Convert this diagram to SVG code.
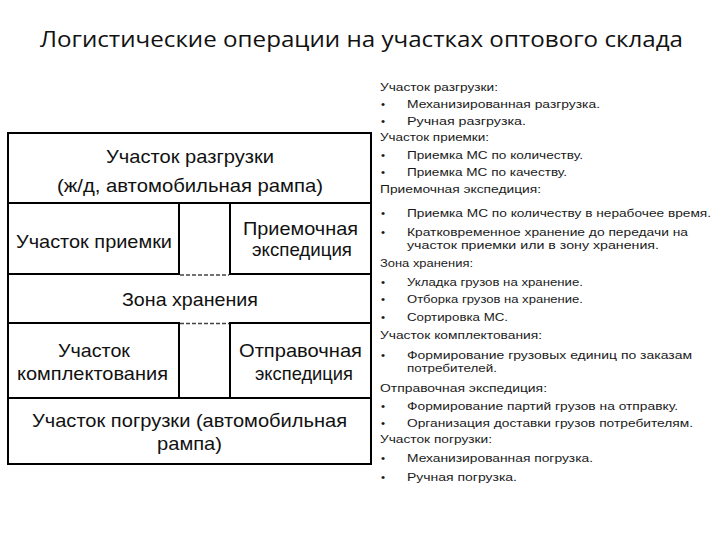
<svg xmlns="http://www.w3.org/2000/svg" width="720" height="540" viewBox="0 0 720 540">
<style>
.bx{fill:#fff;stroke:#000;stroke-width:2}
.ln{fill:none;stroke:#000;stroke-width:2}
.dash{fill:none;stroke:#444;stroke-width:1.5;stroke-dasharray:4 2}
.t{font-family:"Liberation Sans",Arial,sans-serif;font-size:19px;fill:#111}
.title{font-family:"Open Sans","Noto Sans",sans-serif;font-size:22px;fill:#111}
.r{font-family:"Liberation Sans",Arial,sans-serif;font-size:11.5px;fill:#1a1a1a}
</style>
<rect width="720" height="540" fill="#fff"/>
<text class="title" x="40" y="47" textLength="643" lengthAdjust="spacingAndGlyphs">Логистические операции на участках оптового склада</text>

<g id="unloading">
<rect class="bx" x="8" y="133" width="363" height="70"/>
<text class="t" x="106" y="162.5" textLength="168" lengthAdjust="spacingAndGlyphs">Участок разгрузки</text>
<text class="t" x="57" y="191.5" textLength="266" lengthAdjust="spacingAndGlyphs">(ж/д, автомобильная рампа)</text>
</g>
<g id="receiving">
<rect class="bx" x="8" y="203" width="171" height="71"/>
<text class="t" x="16" y="247.5" textLength="156" lengthAdjust="spacingAndGlyphs">Участок приемки</text>
</g>
<g id="middle-top">
<path class="ln" d="M179,203 V274 M230,203 V274"/>
</g>
<g id="reception-expedition">
<rect class="bx" x="230" y="203" width="141" height="71"/>
<text class="t" x="243" y="235" textLength="115" lengthAdjust="spacingAndGlyphs">Приемочная</text>
<text class="t" x="252" y="256" textLength="100" lengthAdjust="spacingAndGlyphs">экспедиция</text>
</g>
<g id="storage-zone">
<path class="ln" d="M179,274 H8 V323 H179 M230,274 H371 V323 H230"/>
<text class="t" x="122" y="305.5" textLength="136" lengthAdjust="spacingAndGlyphs">Зона хранения</text>
</g>
<g id="picking">
<rect class="bx" x="8" y="323" width="171" height="75"/>
<text class="t" x="58" y="357" textLength="72" lengthAdjust="spacingAndGlyphs">Участок</text>
<text class="t" x="17" y="380" textLength="151" lengthAdjust="spacingAndGlyphs">комплектования</text>
</g>
<g id="middle-bottom">
<path class="ln" d="M179,323 V398 M230,323 V398"/>
</g>
<g id="dispatch-expedition">
<rect class="bx" x="230" y="323" width="141" height="75"/>
<text class="t" x="239" y="357" textLength="123" lengthAdjust="spacingAndGlyphs">Отправочная</text>
<text class="t" x="255" y="380" textLength="98" lengthAdjust="spacingAndGlyphs">экспедиция</text>
</g>
<g id="loading">
<rect class="bx" x="8" y="398" width="363" height="66"/>
<text class="t" x="32" y="427" textLength="315" lengthAdjust="spacingAndGlyphs">Участок погрузки (автомобильная</text>
<text class="t" x="157" y="450" textLength="65" lengthAdjust="spacingAndGlyphs">рампа)</text>
</g>
<g id="connectors">
<path class="dash" d="M180,275 H229 M180,323.5 H229"/>
</g>

<g id="operations-list">
<text class="r" x="380" y="91" textLength="118" lengthAdjust="spacingAndGlyphs">Участок разгрузки:</text>
<text class="r" x="381" y="107.5">•</text><text class="r" x="407" y="107.5" textLength="193" lengthAdjust="spacingAndGlyphs">Механизированная разгрузка.</text>
<text class="r" x="381" y="125">•</text><text class="r" x="407" y="125" textLength="119" lengthAdjust="spacingAndGlyphs">Ручная разгрузка.</text>
<text class="r" x="380" y="141" textLength="109" lengthAdjust="spacingAndGlyphs">Участок приемки:</text>
<text class="r" x="381" y="159">•</text><text class="r" x="407" y="159" textLength="176" lengthAdjust="spacingAndGlyphs">Приемка МС по количеству.</text>
<text class="r" x="381" y="176">•</text><text class="r" x="407" y="176" textLength="160" lengthAdjust="spacingAndGlyphs">Приемка МС по качеству.</text>
<text class="r" x="380" y="193" textLength="161" lengthAdjust="spacingAndGlyphs">Приемочная экспедиция:</text>
<text class="r" x="381" y="217">•</text><text class="r" x="407" y="217" textLength="304" lengthAdjust="spacingAndGlyphs">Приемка МС по количеству в нерабочее время.</text>
<text class="r" x="381" y="235.5">•</text><text class="r" x="407" y="235.5" textLength="281" lengthAdjust="spacingAndGlyphs">Кратковременное хранение до передачи на</text>
<text class="r" x="407" y="248.5" textLength="252" lengthAdjust="spacingAndGlyphs">участок приемки или в зону хранения.</text>
<text class="r" x="380" y="266.5" textLength="93" lengthAdjust="spacingAndGlyphs">Зона хранения:</text>
<text class="r" x="381" y="286">•</text><text class="r" x="407" y="286" textLength="176" lengthAdjust="spacingAndGlyphs">Укладка грузов на хранение.</text>
<text class="r" x="381" y="303">•</text><text class="r" x="407" y="303" textLength="176" lengthAdjust="spacingAndGlyphs">Отборка грузов на хранение.</text>
<text class="r" x="381" y="321">•</text><text class="r" x="407" y="321" textLength="101" lengthAdjust="spacingAndGlyphs">Сортировка МС.</text>
<text class="r" x="380" y="339" textLength="162" lengthAdjust="spacingAndGlyphs">Участок комплектования:</text>
<text class="r" x="381" y="358.5">•</text><text class="r" x="407" y="358.5" textLength="285" lengthAdjust="spacingAndGlyphs">Формирование грузовых единиц по заказам</text>
<text class="r" x="407" y="372" textLength="90" lengthAdjust="spacingAndGlyphs">потребителей.</text>
<text class="r" x="380" y="391.5" textLength="167" lengthAdjust="spacingAndGlyphs">Отправочная экспедиция:</text>
<text class="r" x="381" y="410">•</text><text class="r" x="407" y="410" textLength="271" lengthAdjust="spacingAndGlyphs">Формирование партий грузов на отправку.</text>
<text class="r" x="381" y="426.5">•</text><text class="r" x="407" y="426.5" textLength="286" lengthAdjust="spacingAndGlyphs">Организация доставки грузов потребителям.</text>
<text class="r" x="380" y="443" textLength="112" lengthAdjust="spacingAndGlyphs">Участок погрузки:</text>
<text class="r" x="381" y="461.5">•</text><text class="r" x="407" y="461.5" textLength="186" lengthAdjust="spacingAndGlyphs">Механизированная погрузка.</text>
<text class="r" x="381" y="481">•</text><text class="r" x="407" y="481" textLength="110" lengthAdjust="spacingAndGlyphs">Ручная погрузка.</text>
</g>
</svg>
